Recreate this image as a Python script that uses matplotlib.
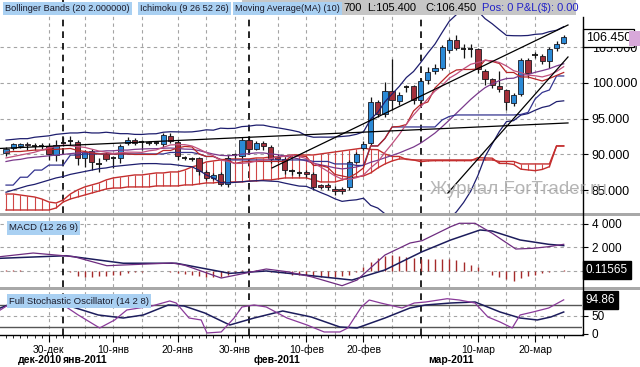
import matplotlib
matplotlib.use("Agg")
import matplotlib.pyplot as plt
import matplotlib.transforms as mtrans
from matplotlib.patches import Rectangle
from matplotlib.lines import Line2D
import numpy as np

plt.rcParams['font.family'] = ['Liberation Sans', 'DejaVu Sans']

# ---------------- data ----------------
opens = [90.20, 90.90, 91.18, 91.39, 91.18, 91.20, 91.22, 89.92, 91.62, 91.90,
         91.74, 89.50, 90.48, 88.66, 90.06, 89.50, 89.54, 91.64, 92.02, 91.70,
         91.60, 91.62, 91.39, 92.58, 91.74, 89.52, 89.38, 89.50, 87.58, 86.70,
         87.26, 85.86, 89.87, 89.78, 92.02, 90.76, 91.53, 91.04, 89.64, 89.40,
         87.63, 87.42, 87.47, 87.26, 85.72, 85.65, 85.16, 85.16, 85.37, 88.98,
         90.85, 91.60, 97.34, 95.66, 98.88, 97.48, 99.46, 99.51, 97.62, 100.42,
         101.68, 102.03, 104.55, 105.95, 104.70, 104.69, 104.69, 101.72, 100.52, 99.54,
         98.99, 97.16, 98.46, 103.22, 103.83, 103.78, 103.08, 104.86, 105.60]
highs = [91.04, 91.60, 91.60, 91.74, 91.60, 91.60, 91.60, 92.02, 92.44, 92.58,
         92.02, 90.62, 90.76, 89.50, 90.34, 89.78, 91.46, 92.44, 92.30, 92.02,
         91.88, 91.88, 93.00, 93.00, 92.02, 89.78, 89.64, 89.64, 87.82, 87.40,
         87.54, 89.92, 90.20, 92.44, 92.58, 91.88, 91.88, 91.32, 90.06, 89.64,
         87.96, 87.68, 87.82, 87.54, 85.86, 86.00, 85.58, 85.44, 89.22, 90.34,
         91.88, 98.04, 97.62, 100.14, 103.36, 98.74, 99.72, 99.72, 100.56, 102.24,
         102.66, 105.32, 106.30, 106.72, 105.46, 105.46, 104.90, 101.96, 100.70, 101.68,
         99.13, 98.60, 103.50, 103.50, 104.34, 104.06, 105.04, 105.88, 106.70]
lows = [89.78, 90.62, 90.90, 90.62, 90.62, 90.76, 89.22, 89.08, 91.18, 91.32,
        88.52, 88.24, 87.82, 87.54, 89.08, 88.10, 88.80, 91.32, 91.32, 90.62,
        91.32, 91.25, 91.04, 91.60, 89.22, 89.22, 89.08, 87.12, 86.42, 86.42,
        85.58, 85.44, 89.50, 89.50, 90.34, 90.62, 90.62, 88.80, 88.94, 87.26,
        87.12, 86.98, 86.84, 85.02, 85.16, 85.02, 84.32, 84.46, 85.02, 88.80,
        90.62, 91.32, 95.24, 95.24, 96.22, 96.92, 98.74, 97.06, 97.20, 99.86,
        101.26, 101.82, 104.20, 104.62, 103.50, 103.64, 101.40, 99.72, 99.30, 98.74,
        96.22, 96.78, 98.18, 100.70, 103.50, 102.66, 102.10, 104.48, 105.40]
closes = [90.76, 91.46, 91.46, 91.25, 91.15, 91.18, 90.01, 91.32, 91.64, 91.92,
          89.50, 90.34, 88.94, 88.68, 89.36, 89.48, 91.22, 92.02, 91.60, 91.69,
          91.62, 91.60, 92.72, 91.88, 89.78, 89.50, 89.36, 87.72, 86.70, 87.12,
          85.86, 89.50, 89.85, 92.02, 90.76, 91.60, 91.11, 89.36, 89.36, 87.75,
          87.61, 87.40, 87.26, 85.48, 85.44, 85.44, 84.81, 84.88, 88.94, 90.06,
          91.41, 97.34, 95.59, 98.88, 97.55, 98.32, 99.44, 97.62, 100.28, 101.54,
          102.10, 104.97, 105.95, 104.87, 104.69, 104.70, 102.00, 100.53, 99.72, 99.13,
          97.27, 98.32, 103.22, 101.36, 103.85, 103.08, 104.72, 105.42, 106.45]

bb_upper = [92.0, 92.1, 92.2, 92.2, 92.4, 92.5, 92.6, 92.8, 92.9, 93.0,
            93.0, 93.1, 93.0, 93.0, 93.1, 93.0, 92.9, 92.9, 92.8, 92.79,
            92.87, 92.89, 93.10, 93.17, 93.15, 93.13, 93.15, 93.27, 93.44, 93.39,
            93.67, 93.62, 93.65, 93.89, 93.96, 94.10, 94.09, 93.88, 93.72, 93.55,
            93.36, 93.14, 92.63, 92.40, 92.42, 92.41, 92.43, 92.51, 92.60, 92.81,
            93.15, 94.93, 95.88, 97.37, 98.45, 99.52, 100.77, 101.61, 102.86, 104.20,
            105.45, 107.08, 108.65, 109.58, 110.21, 110.55, 110.07, 109.01, 108.29, 107.46,
            106.66, 106.62, 106.61, 106.65, 106.81, 106.88, 107.19, 107.38, 107.88]
bb_middle = [89.0, 89.2, 89.3, 89.5, 89.6, 89.7, 89.8, 89.9, 90.0, 90.1,
             90.2, 90.3, 90.3, 90.4, 90.5, 90.5, 90.6, 90.6, 90.7, 90.75,
             90.79, 90.80, 90.86, 90.89, 90.83, 90.74, 90.71, 90.53, 90.28, 90.04,
             89.86, 89.82, 89.86, 90.03, 90.10, 90.21, 90.20, 90.07, 89.96, 89.76,
             89.56, 89.35, 89.08, 88.76, 88.54, 88.34, 88.11, 87.97, 88.08, 88.23,
             88.50, 88.89, 89.18, 89.52, 89.86, 90.20, 90.62, 91.03, 91.58, 92.27,
             92.99, 93.87, 94.80, 95.77, 96.73, 97.70, 98.56, 99.34, 99.88, 100.33,
             100.62, 100.67, 101.06, 101.18, 101.49, 101.73, 102.00, 102.39, 102.69]
bb_lower = [84.7, 85.0, 85.3, 85.6, 85.8, 86.1, 86.4, 86.7, 86.9, 87.2,
            87.4, 87.6, 87.8, 88.0, 88.1, 88.3, 88.4, 88.5, 88.6, 88.70,
            88.71, 88.71, 88.63, 88.62, 88.50, 88.36, 88.27, 87.78, 87.12, 86.69,
            86.05, 86.01, 86.08, 86.17, 86.24, 86.31, 86.31, 86.25, 86.20, 85.97,
            85.76, 85.56, 85.52, 85.11, 84.66, 84.26, 83.78, 83.42, 83.55, 83.64,
            83.86, 82.86, 82.48, 81.68, 81.28, 80.87, 80.46, 80.45, 80.29, 80.33,
            80.53, 80.65, 80.96, 81.96, 83.26, 84.85, 87.04, 89.67, 91.46, 93.20,
            94.59, 94.73, 95.50, 95.71, 96.18, 96.58, 96.80, 97.39, 97.50]
tenkan = [90.3, 90.4, 90.4, 90.5, 90.6, 90.6, 90.7, 90.7, 90.76, 90.83,
          90.55, 90.41, 90.20, 90.06, 90.06, 90.06, 90.06, 90.06, 89.99, 89.99,
          89.99, 89.99, 90.55, 90.55, 90.90, 91.11, 91.04, 90.06, 89.71, 89.71,
          89.29, 89.22, 88.73, 88.94, 89.01, 89.01, 89.01, 89.01, 89.01, 89.01,
          89.85, 89.78, 89.71, 88.45, 88.45, 88.17, 87.19, 86.98, 86.77, 87.33,
          88.10, 91.18, 91.18, 92.23, 93.84, 93.91, 94.19, 96.08, 96.99, 97.34,
          99.30, 100.28, 101.26, 101.82, 101.89, 101.89, 101.96, 103.22, 103.01, 102.73,
          101.47, 101.47, 100.84, 100.84, 100.56, 100.28, 100.63, 101.05, 101.47]
kijun = [85.7, 85.7, 86.8, 86.8, 87.8, 87.8, 88.5, 88.5, 88.5, 89.9,
         89.9, 90.06, 90.06, 90.06, 90.06, 90.06, 90.06, 90.06, 90.06, 90.06,
         90.06, 90.06, 90.06, 90.27, 90.27, 90.27, 90.27, 90.06, 89.71, 89.71,
         89.29, 89.22, 89.22, 89.22, 89.22, 89.22, 89.22, 89.22, 89.22, 89.22,
         89.22, 89.22, 89.22, 89.01, 89.01, 89.01, 88.66, 88.66, 88.66, 88.45,
         88.45, 91.18, 91.18, 92.23, 93.84, 93.84, 93.84, 93.84, 93.84, 93.84,
         93.84, 94.82, 95.31, 95.52, 95.52, 95.52, 95.52, 95.52, 95.52, 95.52,
         95.52, 95.52, 95.59, 95.87, 97.76, 98.67, 99.02, 100.98, 100.98]
span_a = [84.45, 84.45, 84.31, 84.17, 84.03, 83.75, 83.33, 83.19, 83.61, 84.45,
          85.01, 85.44, 85.72, 86.00, 86.42, 86.70, 86.84, 86.98, 87.12, 87.12,
          87.26, 87.40, 87.40, 87.54, 87.54, 87.82, 88.24, 88.52, 88.94, 89.08,
          89.22, 89.36, 89.36, 89.36, 89.36, 89.50, 89.50, 89.64, 89.64, 89.78,
          89.92, 89.92, 89.92, 89.92, 90.06, 90.20, 90.34, 90.48, 90.62, 90.76,
          90.90, 90.69, 90.66, 90.06, 89.71, 89.71, 89.29, 89.22, 88.98, 89.08,
          89.12, 89.12, 89.12, 89.12, 89.12, 89.12, 89.54, 89.50, 89.47, 88.73,
          88.73, 88.59, 87.93, 87.82, 87.72, 87.89, 88.28, 91.18, 91.18]
span_b = [82.21, 82.21, 82.21, 82.21, 82.21, 82.21, 82.21, 82.49, 83.33, 83.75,
          84.03, 84.31, 84.59, 84.87, 85.15, 85.29, 85.29, 85.44, 85.44, 85.44,
          85.44, 85.58, 85.58, 85.58, 85.58, 85.72, 85.72, 85.86, 86.00, 86.00,
          86.14, 86.14, 86.14, 86.14, 86.28, 86.28, 86.42, 86.42, 86.56, 86.70,
          86.70, 86.70, 86.70, 86.42, 86.14, 86.14, 86.14, 86.42, 86.70, 86.84,
          86.98, 87.40, 88.10, 88.66, 89.08, 89.36, 89.36, 89.22, 89.22, 89.22,
          89.22, 89.22, 89.22, 89.22, 89.22, 89.22, 89.22, 89.22, 89.22, 89.01,
          89.01, 89.01, 88.66, 88.66, 88.66, 88.66, 88.66, 91.18, 91.18]
ma10 = [89.5, 89.7, 89.9, 90.1, 90.3, 90.6, 90.9, 91.1, 91.3, 91.22,
        91.09, 90.98, 90.73, 90.47, 90.29, 90.12, 90.24, 90.31, 90.31, 90.28,
        90.50, 90.62, 91.00, 91.32, 91.36, 91.36, 91.18, 90.75, 90.26, 89.80,
        89.22, 89.01, 88.73, 88.74, 88.84, 89.05, 89.22, 89.39, 89.65, 89.72,
        89.89, 89.68, 89.42, 88.77, 88.24, 87.62, 86.99, 86.54, 86.50, 86.73,
        87.11, 88.11, 88.94, 90.28, 91.49, 92.78, 94.24, 95.52, 96.65, 97.80,
        98.87, 99.63, 100.67, 101.26, 101.98, 102.62, 102.87, 103.16, 103.11, 102.87,
        102.38, 101.72, 101.45, 101.09, 101.01, 100.85, 101.12, 101.61, 102.28]

# hand-drawn trend lines (bar index, price) end points
trend_x = [[-0.84, 78.6], [37.2, 78.6], [61.8, 78.6]]
trend_y = [[90.83, 94.40], [88.10, 108.12], [84.59, 103.64]]

# MACD panel
macd_x = [-0.8, 3.8, 9.5, 14.1, 16.4, 23.2, 24.9, 30.1, 33.6, 36.4, 39.3, 42.7, 47.0,
          49.1, 53.0, 56.5, 58.2, 62.2, 63.4, 65.6, 68.0, 71.3, 73.7, 75.9, 78.0]
macd_v = [1.22, 1.53, 1.22, 0.45, 0.51, 0.68, 0.51, -0.60, -0.17, 0.17, -0.06, -0.49, -1.25,
          -0.77, 1.36, 2.38, 2.58, 3.77, 4.06, 4.06, 3.21, 1.87, 1.93, 2.07, 2.27]
signal_x = [-0.8, 8.4, 16.4, 23.8, 31.3, 36.4, 42.7, 48.4, 53.0, 58.2, 62.2, 66.3, 68.0,
            71.9, 75.9, 78.0]
signal_v = [1.08, 1.30, 0.66, 0.66, -0.20, 0.0, -0.40, -0.77, 0.09, 1.64, 2.64, 3.49, 3.40,
            2.64, 2.27, 2.16]
macd_hist = [0.05, 0.05, 0.05, 0.0, 0.0, -0.02, 0.02, 0.03, 0.0, -0.1,
             -0.45, -0.5, -0.5, -0.45, -0.4, -0.35, -0.3, -0.2, -0.1, -0.05,
             0.0, 0.03, 0.0, -0.05, -0.15, -0.25, -0.3, -0.4, -0.5, -0.5,
             -0.55, -0.3, -0.1, 0.05, 0.1, 0.08, 0.05, -0.05, -0.15, -0.2,
             -0.3, -0.3, -0.35, -0.45, -0.5, -0.5, -0.5, -0.45, -0.3, -0.1,
             0.3, 0.8, 1.1, 1.3, 1.35, 1.3, 1.2, 1.1, 1.05, 1.0,
             1.0, 1.0, 1.0, 0.9, 0.75, 0.55, 0.3, 0.0, -0.3, -0.5,
             -0.7, -0.85, -0.6, -0.45, -0.35, -0.2, -0.1, -0.02, 0.11565]

# Stochastic panel
stk_x = [-0.8, 0.3, 7.6, 10.1, 13.1, 15.2, 16.9, 20.4, 22.9, 23.8, 25.6, 27.3, 28.1, 30.1,
         31.9, 33.0, 34.7, 36.4, 39.3, 42.1, 44.5, 46.7, 47.8, 49.7, 50.8, 52.4, 55.4, 57.1,
         58.7, 61.7, 63.4, 65.6, 67.4, 69.1, 70.8, 71.9, 73.7, 75.9, 78.0]
stk_k = [66.7, 80.6, 86.0, 52.8, 16.7, 38.9, 66.7, 77.8, 91.7, 86.1, 44.4, 38.9, 2.8, 5.6,
         44.4, 75.0, 80.6, 75.0, 44.4, 25.0, 5.6, 5.6, 16.7, 75.0, 94.4, 86.1, 72.2, 86.1,
         88.9, 98.0, 94.4, 86.1, 47.2, 33.3, 16.7, 52.8, 61.1, 72.2, 94.86]
std_x = [-0.8, 0.3, 8.4, 12.9, 16.4, 19.2, 22.7, 24.9, 27.8, 31.3, 34.7, 38.7, 42.7, 46.7,
         49.1, 53.0, 56.5, 58.7, 62.2, 65.6, 69.1, 71.9, 74.3, 76.2, 78.0]
std_d = [72.2, 80.6, 80.6, 52.8, 44.4, 52.8, 80.6, 77.8, 58.3, 25.0, 44.4, 63.9, 47.2, 19.4,
         16.7, 44.4, 72.2, 80.6, 86.1, 88.9, 61.1, 44.4, 38.9, 47.2, 61.1]

# axis labels
price_ticks = [85, 90, 95, 100, 105]
date_tick_idx = [6, 15, 24, 32, 42, 50, 66, 74]
date_tick_labels = ['30-дек', '10-янв', '20-янв', '30-янв', '10-фев', '20-фев', '10-мар', '20-мар']
month_idx = [8, 34, 58]
month_label_idx = [1.7, 8.0, 34.7, 59.0]
month_labels = ['дек-2010', 'янв-2011', 'фев-2011', 'мар-2011']
grid_idx = [6, 11, 15, 19, 24, 28, 32, 38, 42, 46, 50, 54, 62, 66, 70, 74]

# ---------------- figure ----------------
W, H = 640, 367
fig = plt.figure(figsize=(6.4, 3.67), dpi=100)
fig.patch.set_facecolor('white')


def fx(px):
    return px / W


def fy(py):
    return 1 - py / H


def axes_px(left, top, right, bottom):
    return fig.add_axes([fx(left), fy(bottom), (right - left) / W, (bottom - top) / H])


ax = axes_px(0, 0, 582, 213)
axm = axes_px(0, 217, 582, 287)
axs = axes_px(0, 290, 582, 335)

XL = (-0.84, 80.56)
GRID = '#a4a4a4'
for a in (ax, axm, axs):
    a.set_xlim(*XL)
    for s in ('left', 'top', 'bottom', 'right'):
        a.spines[s].set_visible(False)
    a.yaxis.tick_right()
    a.tick_params(axis='y', which='major', length=4, width=0.8, pad=3, labelsize=9,
                  colors='black')
    a.set_xticks([])
    for g in grid_idx:
        a.axvline(g, color=GRID, lw=0.8, ls=(0, (3, 3)), zorder=0.5)
    for m in month_idx:
        a.axvline(m, color='black', lw=1.2, ls=(0, (4, 3)), zorder=0.6)

# ----- main price panel -----
ax.set_ylim(81.79, 111.62)
ax.set_yticks(price_ticks)
ax.set_yticklabels([f"{v:.3f}" for v in price_ticks])
for v in price_ticks:
    ax.axhline(v, color=GRID, lw=0.8, ls=(0, (3, 3)), zorder=0.5)

bars = np.arange(len(closes))
o = np.array(opens); c = np.array(closes); h = np.array(highs); lo = np.array(lows)

# Ichimoku cloud
ax.vlines(bars, span_b, span_a, color='#d04646', lw=0.8, zorder=1.5)
ax.plot(bars, span_a, color='#c42e2e', lw=1.0, zorder=1.6)
ax.plot(bars, span_b, color='#c42e2e', lw=1.0, zorder=1.6)

# candles
BLUE = '#2b8ad6'
RED = '#a32f3a'
up = c > o + 0.05
dn = c < o - 0.05
dj = ~(up | dn)
ax.vlines(bars, lo, h, color='#141414', lw=0.9, zorder=3)
ax.bar(bars[up], (c - o)[up], bottom=o[up], width=0.74, color=BLUE,
       edgecolor='#1a1a22', linewidth=0.6, zorder=4)
ax.bar(bars[dn], (c - o)[dn], bottom=o[dn], width=0.74, color=RED,
       edgecolor='#1a1a22', linewidth=0.6, zorder=4)
ax.hlines(c[dj], bars[dj] - 0.37, bars[dj] + 0.37, color='#141414', lw=1.3, zorder=4)

# indicators
ax.plot(bars, bb_upper, color='#1e1e6e', lw=0.9, zorder=5)
ax.plot(bars, bb_lower, color='#1e1e6e', lw=0.9, zorder=5)
ax.plot(bars, bb_middle, color='#7a3a8c', lw=0.9, zorder=5)
ax.plot(bars, kijun, color='#33338f', lw=0.9, zorder=5)
ax.plot(bars, tenkan, color='#b82626', lw=0.9, zorder=5)
ax.plot(bars, ma10, color='#c0507e', lw=0.9, zorder=5)
for tx, ty in zip(trend_x, trend_y):
    ax.plot(tx, ty, color='black', lw=0.9, zorder=5)

blend_main = mtrans.blended_transform_factory(ax.transAxes, ax.transData)
ax.text(1.0 + 4 / 582, c[-1] - 0.15, f"{c[-1]:.3f}", transform=blend_main, ha='left',
        va='center', fontsize=9, color='black', zorder=30, clip_on=False,
        bbox=dict(boxstyle='square,pad=0.25', fc='white', ec='black', lw=0.9))

# ----- MACD panel -----
axm.set_ylim(-1.362, 4.595)
axm.set_yticks([0, 2, 4])
axm.set_yticklabels(['', '2 000', '4 000'])
axm.tick_params(axis='y', labelsize=8.5)
for v in (0, 2, 4):
    axm.axhline(v, color=GRID, lw=0.8, ls=(0, (3, 3)), zorder=0.5)
axm.vlines(bars, 0, macd_hist, color='#a52a2a', lw=1.0, zorder=2)
axm.plot(signal_x, signal_v, color='#1c1c5c', lw=1.1, zorder=3)
axm.plot(macd_x, macd_v, color='#6e2c80', lw=0.9, zorder=3)
blend_m = mtrans.blended_transform_factory(axm.transAxes, axm.transData)
axm.text(1.0 + 4 / 582, macd_hist[-1], f"{macd_hist[-1]:.5f}", transform=blend_m, ha='left',
         va='center', fontsize=8.5, color='white', zorder=30, clip_on=False,
         bbox=dict(boxstyle='square,pad=0.25', fc='black', ec='black'))

# ----- Stochastic panel -----
axs.set_ylim(-2.8, 122.2)
axs.set_yticks([0, 50])
axs.set_yticklabels(['0', '50'])
axs.tick_params(axis='y', labelsize=8.5)
axs.axhline(50, color=GRID, lw=0.8, ls=(0, (3, 3)), zorder=0.5)
axs.axhline(80, color='#555555', lw=1.0, zorder=1)
axs.axhline(20, color='#555555', lw=1.0, zorder=1)
axs.plot(std_x, std_d, color='#1c1c5c', lw=1.1, zorder=3)
axs.plot(stk_x, stk_k, color='#8a3a9a', lw=0.9, zorder=3)
blend_s = mtrans.blended_transform_factory(axs.transAxes, axs.transData)
axs.text(1.0 + 4 / 582, stk_k[-1], f"{stk_k[-1]:.2f}", transform=blend_s, ha='left',
         va='center', fontsize=8.5, color='white', zorder=30, clip_on=False,
         bbox=dict(boxstyle='square,pad=0.25', fc='black', ec='black'))

axs.spines['bottom'].set_visible(True)
axs.spines['bottom'].set_color('black')
axs.spines['bottom'].set_linewidth(1.0)
axs.set_xticks(date_tick_idx)
axs.set_xticklabels(date_tick_labels)
axs.set_xticks(bars, minor=True)
axs.tick_params(axis='x', which='major', length=5, width=0.8, pad=2, labelsize=7.5)
axs.tick_params(axis='x', which='minor', length=2.5, width=0.6)

blend_x = mtrans.blended_transform_factory(axs.transData, fig.transFigure)
for mi, ml in zip(month_label_idx, month_labels):
    axs.text(mi, fy(360), ml, transform=blend_x, ha='left', va='center', fontsize=7.5,
             fontweight='bold', clip_on=False)

# ----- separators, axis line -----
fig.add_artist(Rectangle((0, fy(216)), 1, 3 / H, transform=fig.transFigure,
                         fc='#a8a8a8', ec='none', zorder=8))
fig.add_artist(Rectangle((0, fy(289.5)), 1, 2.5 / H, transform=fig.transFigure,
                         fc='#a8a8a8', ec='none', zorder=8))
fig.add_artist(Line2D([fx(582.5), fx(582.5)], [fy(17), fy(335)], transform=fig.transFigure,
                      color='black', lw=1.0, zorder=9))

# ----- header -----
fig.add_artist(Rectangle((fx(242), fy(15)), (576 - 242) / W, 15 / H, transform=fig.transFigure,
                         fc='#c6c6c6', ec='none', zorder=10))
fig.text(fx(343), fy(8), '700', ha='left', va='center', fontsize=8,
         color='black', zorder=11)
fig.text(fx(367), fy(8), 'L:105.400', ha='left', va='center', fontsize=8, color='black', zorder=11)
fig.text(fx(425), fy(8), 'C:106.450', ha='left', va='center', fontsize=8, color='black', zorder=11)
fig.text(fx(482), fy(8), 'Pos: 0 P&L(\\$): 0.00', ha='left', va='center', fontsize=8,
         color='#2424c8', zorder=11)

LBL = '#a9d0f2'
for xpos, txt in ((5, 'Bollinger Bands (20 2.000000)'), (140, 'Ichimoku (9 26 52 26)'),
                  (235, 'Moving Average(MA) (10)')):
    fig.text(fx(xpos), fy(8.5), txt, ha='left', va='center', fontsize=6.6, color='#1a1a2a',
             zorder=12, bbox=dict(boxstyle='square,pad=0.22', fc=LBL, ec='none'))
fig.text(fx(9), fy(228), 'MACD (12 26 9)', ha='left', va='center', fontsize=6.8,
         color='#1a1a2a', zorder=12, bbox=dict(boxstyle='square,pad=0.22', fc=LBL, ec='none'))
fig.text(fx(9), fy(301), 'Full Stochastic Oscillator (14 2 8)', ha='left', va='center',
         fontsize=6.8, color='#1a1a2a', zorder=12,
         bbox=dict(boxstyle='square,pad=0.22', fc=LBL, ec='none'))

# pink marker right of the price label
fig.add_artist(Rectangle((fx(629), fy(46)), 11 / W, 15 / H, transform=fig.transFigure,
                         fc='#d8a8da', ec='none', zorder=10))

# watermark
fig.text(fx(430), fy(190), 'Журнал ForTrader.ru', ha='left', va='center', fontsize=13.5,
         color='#a8a8a8', alpha=0.85, zorder=15)

fig.savefig('out.png', dpi=100)
